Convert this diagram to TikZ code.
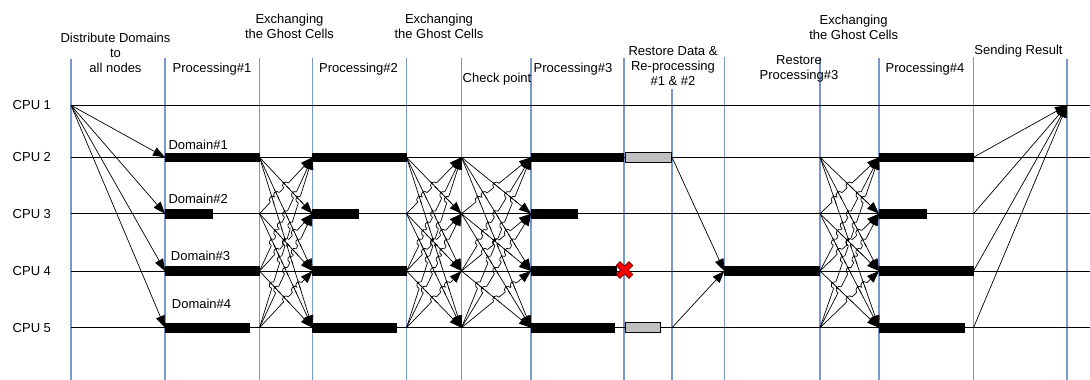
\documentclass[tikz,border=0pt]{standalone}
\usepackage{fontspec}
\setmainfont{Liberation Sans}
\usetikzlibrary{arrows.meta}
\definecolor{gridblue}{RGB}{122,152,206}
\definecolor{barfill}{RGB}{192,192,192}
\newcommand\hoprad{3.5}
\begin{document}
\begin{tikzpicture}[x=1pt,y=-1pt,
  gridline/.style={draw=gridblue,line width=1.2pt},
  cpuline/.style={draw=black,line width=0.8pt},
  msg/.style={draw=black,line width=0.7pt,-{Triangle[length=12pt,width=9pt]}},
  hopline/.style={draw=black,line width=0.7pt},
  bar/.style={fill=black},
  redo/.style={fill=barfill,draw=black,line width=0.8pt},
  lbl/.style={font=\fontsize{13}{15}\selectfont,inner sep=0pt,align=center},
]
\useasboundingbox (0,0) rectangle (1090,380);
\fill[white] (0,0) rectangle (1090,380);

% time columns and the points where they meet the CPU lines
\foreach \c/\x/\t in {0/71/59,1/165/58,2/259.5/58,3/312.5/58,4/406.5/58,5/461.5/58,6/531/58,7/624/58,8/672/89,9/724.3/57,10/820/58,11/879/58,12/973.5/57,13/1067/59} {
  \coordinate (t\c) at (\x,\t);
  \coordinate (b\c) at (\x,380);
  \foreach \i/\y in {1/105.3,2/157.3,3/213.7,4/271,5/327.7}
    \coordinate (p\i-\c) at (\x,\y);
}
\foreach \c in {0,...,13} \draw[gridline] (t\c) -- (b\c);

% CPU lines and their labels
\foreach \i/\y in {1/105.3,2/157.3,3/213.7,4/271,5/327.7} {
  \coordinate (e\i) at (1090,\y);
  \draw[cpuline] (p\i-0) -- (e\i);
  \node[lbl,anchor=west] (cpu\i) at (12.5,\y) {CPU \i};
}

% distributing the domains
\foreach \j in {2,...,5} \draw[msg] (p1-0) -- (p\j-1);

% ghost cell exchanges (all to all)
\foreach \s/\e in {2/3,4/5,5/6,10/11}
  \foreach \a in {2,...,5}
    \foreach \b in {2,...,5} {
      \ifnum\a=\b\relax\else\draw[msg] (p\a-\s) -- (p\b-\e);\fi
    }

% line jumps: rising exchange lines hop over falling ones
\foreach \xs/\xe in {259.5/312.5,406.5/461.5,461.5/531,820/879}
 \foreach \a in {2,...,5}
  \foreach \b in {2,...,5}
   \foreach \c in {2,...,5}
    \foreach \d in {2,...,5} {
      \pgfmathtruncatemacro\hok{(\a>\b)&&(\c<\d)}
      \ifnum\hok=1
        \pgfmathsetmacro\ya{{157.3,213.7,271,327.7}[\a-2]}
        \pgfmathsetmacro\yb{{157.3,213.7,271,327.7}[\b-2]}
        \pgfmathsetmacro\yc{{157.3,213.7,271,327.7}[\c-2]}
        \pgfmathsetmacro\yd{{157.3,213.7,271,327.7}[\d-2]}
        \pgfmathsetmacro\hden{(\yb-\ya)-(\yd-\yc)}
        \pgfmathsetmacro\hpar{(\yc-\ya)/\hden}
        \pgfmathtruncatemacro\hin{(\hpar>0.09)&&(\hpar<0.91)}
        \ifnum\hin=1
          \pgfmathsetmacro\px{\xs+\hpar*(\xe-\xs)}
          \pgfmathsetmacro\py{\ya+\hpar*(\yb-\ya)}
          \pgfmathsetmacro\angA{atan2(\ya-\yb,\xe-\xs)}
          \pgfmathsetmacro\angB{atan2(\yc-\yd,\xe-\xs)}
          \begin{scope}[shift={(\px,\py)},rotate=\angA]
            \draw[white,line width=1.6pt] (-\hoprad,0) -- (\hoprad,0);
          \end{scope}
          \begin{scope}[shift={(\px,\py)},rotate=\angB]
            \draw[hopline] (-\hoprad-1.5,0) -- (\hoprad+1.5,0);
          \end{scope}
          \begin{scope}[shift={(\px,\py)},rotate=\angA]
            \draw[hopline] (-\hoprad,0) arc[start angle=180,end angle=360,radius=\hoprad];
          \end{scope}
        \fi
      \fi
    }

% CPU lines again where the jumps cut them
\foreach \i in {2,...,5} \draw[cpuline] (p\i-2) -- (p\i-3) (p\i-4) -- (p\i-6) (p\i-10) -- (p\i-11);

% recovery of CPU 4
\draw[msg] (p2-8) -- (p4-9);
\draw[msg] (p5-8) -- (p4-9);

% sending the results back
\foreach \j in {2,...,5} \draw[msg] (p\j-12) -- (p1-13);

% processing bars
\foreach \y/\xa/\xb in {157.3/165/259.5, 213.7/165/212.7, 271/165/259.5, 327.7/165/250,
  157.3/312.3/406.5, 213.7/312.3/359.3, 271/312.3/406.5, 327.7/312.3/397.3,
  157.3/530.5/624, 213.7/530.5/577.7, 271/530.5/616.5, 327.7/530.5/615,
  271/724.3/820,
  157.3/879/973.5, 213.7/879/926.7, 271/879/973.5, 327.7/879/965}
  \path[bar] (\xa,\y-4.8) rectangle (\xb,\y+4.8);

% re-processing bars
\path[redo] (625.7,152.5) rectangle (671.7,162.1);
\path[redo] (625.5,322.6) rectangle (660.5,332.2);

% failure mark on CPU 4
\begin{scope}[shift={(624.5,270)},rotate=45]
  \path[fill=red,draw=black!55!red,line width=0.8pt]
    (2.7,9)--(-2.7,9)--(-2.7,2.7)--(-9,2.7)--(-9,-2.7)--(-2.7,-2.7)--(-2.7,-9)
    --(2.7,-9)--(2.7,-2.7)--(9,-2.7)--(9,2.7)--(2.7,2.7)--cycle;
\end{scope}

% phase labels
\node[lbl] (distr) at (115.5,52.7) {Distribute Domains\\to\\all nodes};
\node[lbl] (proc1) at (212,69.3) {Processing\#1};
\node[lbl] (xch1) at (289.5,26) {Exchanging\\the Ghost Cells};
\node[lbl] (proc2) at (358.5,69.3) {Processing\#2};
\node[lbl] (xch2) at (439,26) {Exchanging\\the Ghost Cells};
\node[lbl] (chk) at (497,79.5) {Check point};
\node[lbl] (proc3) at (573,69.3) {Processing\#3};
\node[lbl] (restore) at (673,66.5) {Restore Data \&\\Re-processing\\\#1 \& \#2};
\node[lbl] (rproc3) at (799,68.5) {Restore\\Processing\#3};
\node[lbl] (xch3) at (853.7,27.2) {Exchanging\\the Ghost Cells};
\node[lbl] (proc4) at (925,69.3) {Processing\#4};
\node[lbl] (send) at (1018.5,51.2) {Sending Result};

% domain labels
\node[lbl,anchor=west] (dom1) at (168.3,145) {Domain\#1};
\node[lbl,anchor=west] (dom2) at (168.3,199.3) {Domain\#2};
\node[lbl,anchor=west] (dom3) at (170.7,256.3) {Domain\#3};
\node[lbl,anchor=west] (dom4) at (171.7,304.3) {Domain\#4};
\end{tikzpicture}
\end{document}
